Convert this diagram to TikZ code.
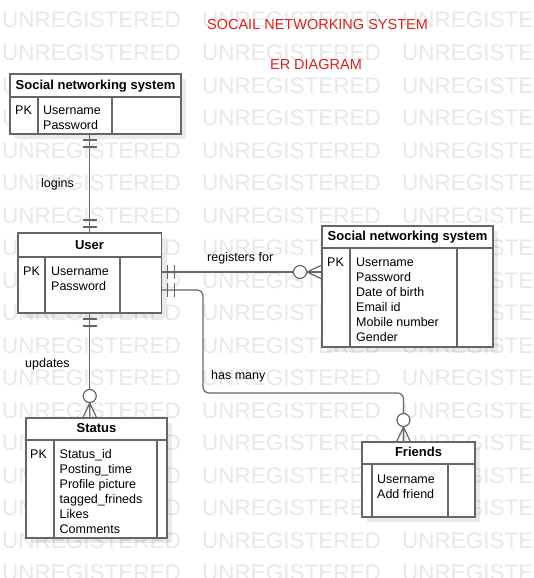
\documentclass[tikz,border=0pt]{standalone}
\usepackage{fontspec}
\setmainfont{Liberation Sans}
\usetikzlibrary{shadows}

\definecolor{linegray}{RGB}{102,102,102}
\definecolor{titlered}{RGB}{218,32,32}
\definecolor{wmgray}{RGB}{232,232,232}

\tikzset{
  box/.style={draw=linegray, line width=1.5pt, fill=white, anchor=north west, inner sep=0pt, outer sep=0pt,
    drop shadow={shadow xshift=5pt, shadow yshift=-5pt, fill=black, opacity=0.08}},
  boxline/.style={draw=linegray, line width=1.5pt},
  conn/.style={draw=linegray, line width=1.2pt},
  head/.style={anchor=base, inner sep=0pt, font=\fontsize{13}{15}\selectfont\bfseries},
  txt/.style={anchor=north west, inner sep=0pt, align=left, font=\fontsize{12.5}{15}\selectfont},
  lbl/.style={anchor=base west, inner sep=0pt, font=\fontsize{12.5}{15}\selectfont},
  ttl/.style={anchor=base, inner sep=0pt, text=titlered, font=\fontsize{14.5}{17}\selectfont},
  wm/.style={anchor=base west, inner sep=0pt, text=wmgray, font=\fontsize{22.5}{27}\selectfont},
  one/.pic={\draw[conn] (6,-7) -- (6,7) (13,-7) -- (13,7);},
  many/.pic={\draw[conn] (0,-7) -- (15,0) -- (0,7) (0,0) -- (15,0);
    \draw[conn, fill=white] (22,0) circle[radius=6.5pt];}
}

\begin{document}
\begin{tikzpicture}[x=1pt, y=-1pt]
\useasboundingbox (0,0) rectangle (533,578);
\fill[white] (0,0) rectangle (533,578);
% watermark
\foreach \r in {0,...,17}
  \foreach \c in {0,1,2}
    \node[wm] (wm-\r-\c) at (2+200*\c, 28+32.5*\r) {UNREGISTERED};

% title
\node[ttl] (title) at (317.5,29.5) {SOCAIL NETWORKING SYSTEM};
\node[ttl] (subtitle) at (316,69.5) {ER DIAGRAM};

% social networking system (top)
\node[box, minimum width=171, minimum height=60] (snsA) at (10,74) {};
\draw[boxline] (10,97) -- (181,97) (38,97) -- (38,134) (112,97) -- (112,134);
\node[head] (snsAhd) at (95.5,89) {Social networking system};
\node[txt] (snsApk) at (15,106) {PK};
\node[txt] (snsAfl) at (43,106) {Username\\Password};

% user
\node[box, minimum width=143.5, minimum height=80] (user) at (18,233) {};
\draw[boxline] (18,257) -- (161.5,257) (45,257) -- (45,313) (120,257) -- (120,313);
\node[head] (userhd) at (89.5,249.5) {User};
\node[txt] (userpk) at (23,266.5) {PK};
\node[txt] (userfl) at (51,266.5) {Username\\Password};

% social networking system (right)
\node[box, minimum width=171, minimum height=121] (snsB) at (322,226) {};
\draw[boxline] (322,248) -- (493,248) (350,248) -- (350,347) (457,248) -- (457,347);
\node[head] (snsBhd) at (407.5,240.5) {Social networking system};
\node[txt] (snsBpk) at (327,257.5) {PK};
\node[txt] (snsBfl) at (356,257.5) {Username\\Password\\Date of birth\\Email id\\Mobile number\\Gender};

% status
\node[box, minimum width=141, minimum height=120] (status) at (26,418) {};
\draw[boxline] (26,440) -- (167,440) (54,440) -- (54,538) (157,440) -- (157,538);
\node[head] (statushd) at (96.5,432.5) {Status};
\node[txt] (statuspk) at (30,449.5) {PK};
\node[txt] (statusfl) at (59.5,449.5) {Status\_id\\Posting\_time\\Profile picture\\tagged\_frineds\\Likes\\Comments};

% friends
\node[box, minimum width=113, minimum height=75] (friends) at (362,442) {};
\draw[boxline] (362,464) -- (475,464) (372,464) -- (372,517) (448,464) -- (448,517);
\node[head] (friendshd) at (418.5,456.5) {Friends};
\node[txt] (friendsfl) at (377,474.5) {Username\\Add friend};

% relations
\coordinate (ur) at ([yshift=-39pt]user.north east);
\coordinate (uh) at ([yshift=-57pt]user.north east);
\coordinate (fr) at ([xshift=-15pt]friends.north);
\coordinate (bend) at (203,393);
\draw[conn] (snsA.south -| user.north) -- (user.north);
\draw[conn] (ur) -- (ur -| snsB.west);
\draw[conn, rounded corners=6pt] (uh) -| (bend) -| (fr);
\draw[conn] (user.south) -- (user.south |- status.north);
\pic[rotate=-90] at (snsA.south -| user.north) {one};
\pic[rotate=90] at (user.north) {one};
\pic at (ur) {one};
\pic[rotate=180] at (ur -| snsB.west) {many};
\pic at (uh) {one};
\pic[rotate=90] at (fr) {many};
\pic[rotate=-90] at (user.south) {one};
\pic[rotate=90] at (user.south |- status.north) {many};

\node[lbl] (logins) at (41,187) {logins};
\node[lbl] (registers) at (207,261.5) {registers for};
\node[lbl] (hasmany) at (211,379.5) {has many};
\node[lbl] (updates) at (25,367.5) {updates};
\end{tikzpicture}
\end{document}
